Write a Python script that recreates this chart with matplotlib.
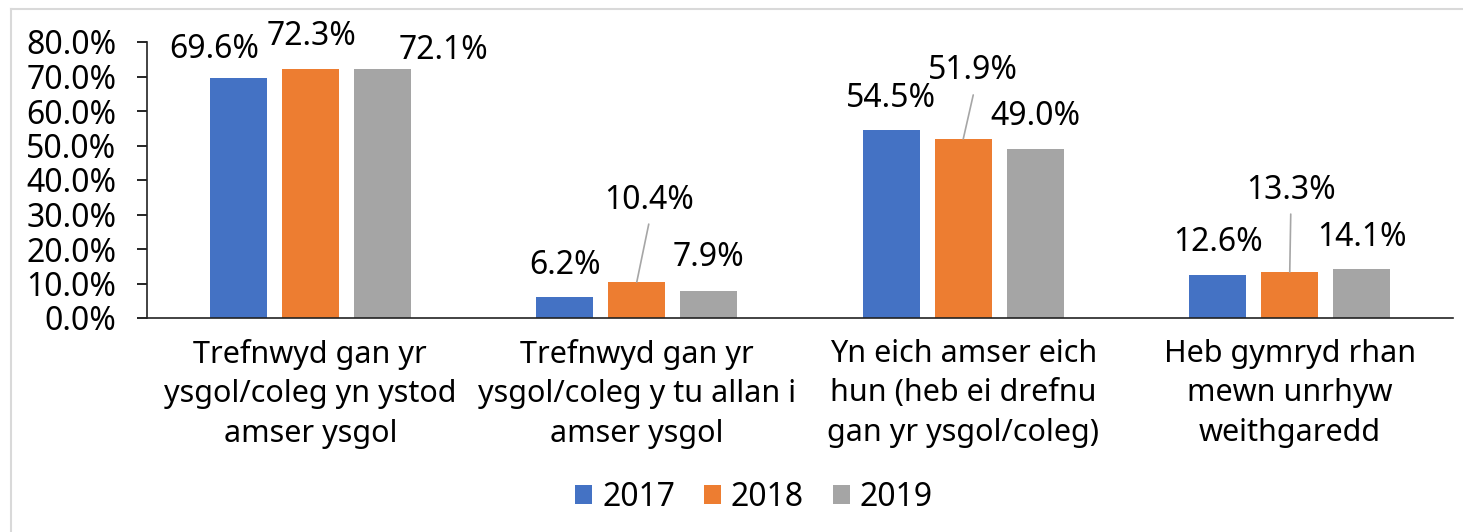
import matplotlib
matplotlib.use("Agg")
import matplotlib.pyplot as plt
from matplotlib.lines import Line2D
import numpy as np

plt.rcParams['font.family'] = ['Noto Sans', 'DejaVu Sans']

categories = [
    "Trefnwyd gan yr\nysgol/coleg yn ystod\namser ysgol",
    "Trefnwyd gan yr\nysgol/coleg y tu allan i\namser ysgol",
    "Yn eich amser eich\nhun (heb ei drefnu\ngan yr ysgol/coleg)",
    "Heb gymryd rhan\nmewn unrhyw\nweithgaredd",
]
years = ["2017", "2018", "2019"]
v2017 = [69.6, 6.2, 54.5, 12.6]
v2018 = [72.3, 10.4, 51.9, 13.3]
v2019 = [72.1, 7.9, 49.0, 14.1]
colors = ["#4472C4", "#ED7D31", "#A5A5A5"]

# label offsets (pixels from bar top centre to label centre), set by hand like Excel
offsets = [
    [(-24, 28), (0, 31), (0, 31), (0, 32)],
    [(1, 32), (12, 82), (10, 68), (1, 82)],
    [(61, 19), (0, 33), (0, 32), (0, 32)],
]
leaders = [
    [False, False, False, False],
    [False, True, True, True],
    [False, False, False, False],
]

FS = 23
W, H = 1463, 532
fig = plt.figure(figsize=(W / 100, H / 100), dpi=100)
ax = fig.add_axes([147 / W, 1 - 318 / H, (1453 - 147) / W, (318 - 42) / H])

x = np.arange(len(categories))
step = 0.2205
width = 0.1746
series = [v2017, v2018, v2019]
for i, vals in enumerate(series):
    bars = ax.bar(x + (i - 1) * step, vals, width, color=colors[i], label=years[i])
    for j, b in enumerate(bars):
        cx = b.get_x() + b.get_width() / 2
        top = b.get_height()
        dx, dy = offsets[i][j]
        ax.annotate(f"{vals[j]:.1f}%", xy=(cx, top), xytext=(dx * 0.72, dy * 0.72),
                    textcoords="offset points", ha="center", va="center",
                    fontsize=FS, color="black")
        if leaders[i][j]:
            ax.annotate("", xy=(cx, top), xytext=(dx * 0.72, (dy - 24) * 0.72),
                        textcoords="offset points",
                        arrowprops=dict(arrowstyle="-", color="#A6A6A6", lw=1.2,
                                        shrinkA=0, shrinkB=0))

ax.set_xlim(-0.5, 3.5)
ax.set_ylim(0, 80)
ax.set_yticks(np.arange(0, 81, 10))
ax.set_yticklabels([f"{t:.1f}%" for t in np.arange(0, 81, 10)], fontsize=FS)
ax.tick_params(axis="y", direction="out", length=7, width=1.2, pad=15)
ax.set_xticks(x)
ax.tick_params(axis="x", length=0, pad=15)
ax.set_xticklabels(categories, fontsize=22)
for t in ax.get_xticklabels():
    t.set_linespacing(1.42)
for s in ["top", "right"]:
    ax.spines[s].set_visible(False)
ax.spines["left"].set_color("#222222")
ax.spines["bottom"].set_color("#222222")
ax.spines["left"].set_linewidth(1.2)
ax.spines["bottom"].set_linewidth(1.2)

fig.legend(loc="center", bbox_to_anchor=(754 / W, 1 - 497 / H), ncol=3, frameon=False,
           fontsize=FS, handlelength=0.55, handleheight=0.55, handletextpad=0.3,
           columnspacing=0.9)

# outer chart frame
fig.add_artist(Line2D([11 / W, 11 / W], [0, 1 - 9 / H], color="#D9D9D9", lw=1.5))
fig.add_artist(Line2D([11 / W, 1], [1 - 9 / H, 1 - 9 / H], color="#D9D9D9", lw=1.5))

fig.savefig("out.png", dpi=100)
